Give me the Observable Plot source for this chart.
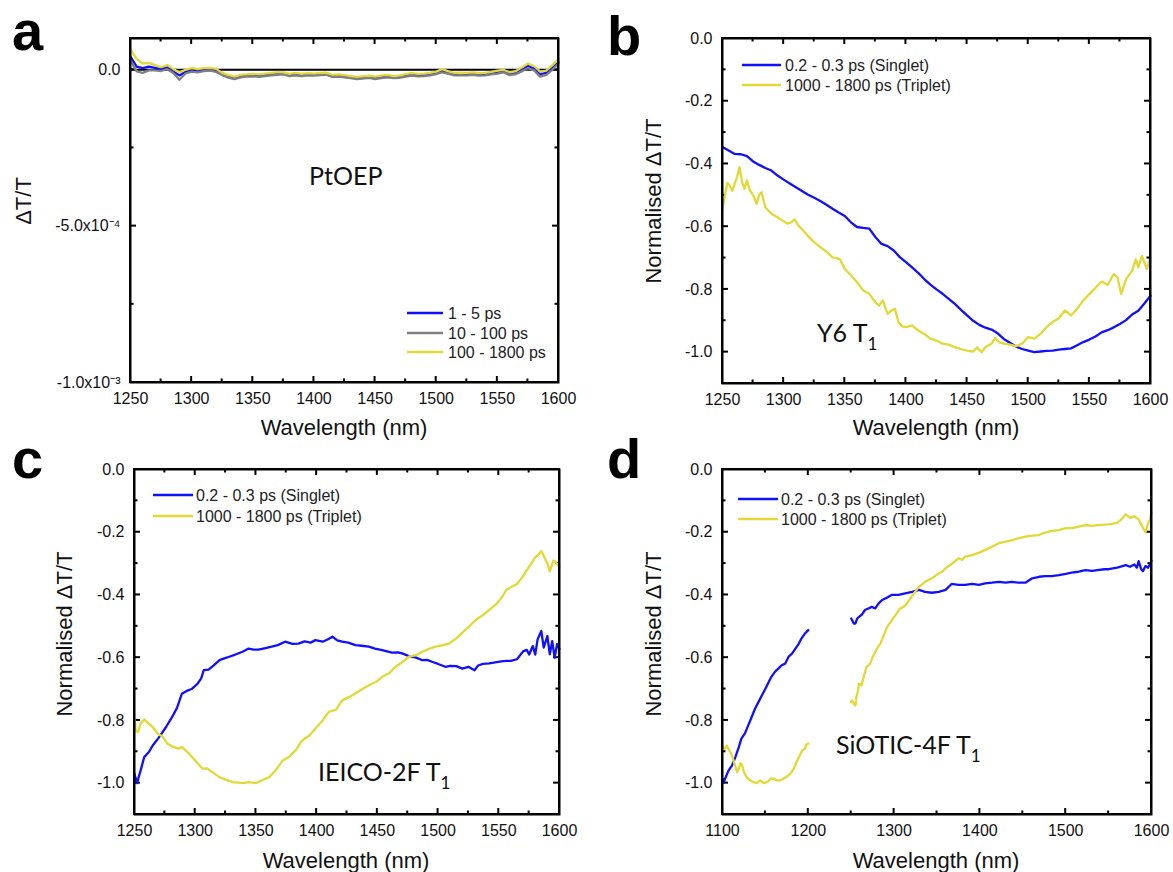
<!DOCTYPE html>
<html><head><meta charset="utf-8">
<script src="https://cdn.jsdelivr.net/npm/d3@7"></script>
<script src="https://cdn.jsdelivr.net/npm/@observablehq/plot@0.6"></script>
<style>
body{margin:0;background:#fff;}
#fig{position:relative;width:1173px;height:872px;overflow:hidden;background:#fff;}
.panel{position:absolute;}
#ov{position:absolute;left:0;top:0;pointer-events:none;}
</style></head><body><div id="fig"></div>
<script>
// ---------- Panel a (PtOEP), ΔT/T in units of 1e-4 ----------
const wlA = [1250,1255,1260,1265,1270,1275,1280,1285,1290,1295,1300,1305,1310,1315,1320,1325,1330,1335,1340,1345,1350,1355,1360,1365,1370,1375,1380,1385,1390,1395,1400,1405,1410,1415,1420,1425,1430,1435,1440,1445,1450,1455,1460,1465,1470,1475,1480,1485,1490,1495,1500,1505,1510,1515,1520,1525,1530,1535,1540,1545,1550,1555,1560,1565,1570,1575,1580,1585,1590,1595,1600];
const a_1_5ps = [0.42,0.1,0.05,0.1,0.06,0.02,0.08,-0.05,-0.18,-0.06,-0.02,-0.04,0.0,0.01,-0.03,-0.14,-0.22,-0.26,-0.2,-0.19,-0.18,-0.2,-0.16,-0.14,-0.13,-0.12,-0.17,-0.14,-0.17,-0.15,-0.16,-0.14,-0.13,-0.2,-0.19,-0.21,-0.24,-0.27,-0.25,-0.23,-0.27,-0.24,-0.21,-0.24,-0.23,-0.19,-0.16,-0.18,-0.17,-0.15,-0.11,-0.04,-0.1,-0.15,-0.14,-0.15,-0.13,-0.16,-0.15,-0.12,-0.09,-0.05,-0.14,-0.1,0.0,0.12,0.04,-0.14,-0.1,0.06,0.25];
const a_10_100ps = [0.3,-0.05,-0.1,-0.02,-0.02,-0.04,0.02,-0.1,-0.32,-0.12,-0.06,-0.08,-0.04,-0.03,-0.07,-0.17,-0.25,-0.3,-0.24,-0.22,-0.21,-0.23,-0.2,-0.18,-0.16,-0.15,-0.2,-0.18,-0.2,-0.18,-0.19,-0.17,-0.16,-0.23,-0.22,-0.24,-0.27,-0.3,-0.28,-0.26,-0.3,-0.27,-0.24,-0.27,-0.26,-0.22,-0.19,-0.21,-0.2,-0.18,-0.14,-0.08,-0.13,-0.18,-0.17,-0.18,-0.16,-0.19,-0.18,-0.15,-0.12,-0.08,-0.17,-0.14,-0.05,0.05,-0.02,-0.22,-0.16,0.0,0.2];
const a_100_1800ps = [0.64,0.35,0.2,0.22,0.15,0.08,0.15,0.02,-0.08,0.0,0.05,0.02,0.05,0.06,0.03,-0.1,-0.17,-0.22,-0.16,-0.15,-0.13,-0.15,-0.12,-0.1,-0.08,-0.08,-0.13,-0.1,-0.13,-0.11,-0.12,-0.1,-0.09,-0.16,-0.15,-0.17,-0.2,-0.23,-0.21,-0.19,-0.22,-0.19,-0.16,-0.2,-0.19,-0.14,-0.11,-0.13,-0.12,-0.1,-0.06,0.02,-0.05,-0.1,-0.09,-0.1,-0.08,-0.11,-0.1,-0.07,-0.03,0.0,-0.08,-0.04,0.07,0.2,0.12,-0.06,-0.03,0.15,0.34];

// ---------- Panel b (Y6) ----------
const b_singlet = [[1250,-0.346],[1255,-0.357],[1260,-0.368],[1265,-0.369],[1270,-0.375],[1275,-0.392],[1280,-0.403],[1285,-0.413],[1290,-0.421],[1295,-0.437],[1300,-0.450],[1305,-0.462],[1310,-0.474],[1315,-0.486],[1320,-0.498],[1325,-0.508],[1330,-0.518],[1335,-0.530],[1340,-0.543],[1345,-0.555],[1350,-0.566],[1355,-0.586],[1360,-0.601],[1365,-0.604],[1370,-0.606],[1375,-0.633],[1380,-0.655],[1385,-0.662],[1390,-0.676],[1395,-0.697],[1400,-0.713],[1405,-0.730],[1410,-0.747],[1415,-0.767],[1420,-0.785],[1425,-0.800],[1430,-0.814],[1435,-0.830],[1440,-0.846],[1445,-0.865],[1450,-0.883],[1455,-0.900],[1460,-0.913],[1465,-0.922],[1470,-0.928],[1475,-0.940],[1480,-0.958],[1485,-0.970],[1490,-0.982],[1495,-0.990],[1500,-0.995],[1505,-1.0],[1510,-0.998],[1515,-0.996],[1520,-0.995],[1525,-0.992],[1530,-0.990],[1535,-0.988],[1540,-0.978],[1545,-0.968],[1550,-0.960],[1555,-0.950],[1560,-0.937],[1565,-0.930],[1570,-0.921],[1575,-0.910],[1580,-0.898],[1585,-0.880],[1590,-0.868],[1595,-0.845],[1600,-0.820]];
const b_triplet = [[1250,-0.543],[1252,-0.50],[1254,-0.46],[1256,-0.47],[1258,-0.485],[1260,-0.463],[1262,-0.44],[1264,-0.41],[1266,-0.458],[1268,-0.479],[1270,-0.452],[1272,-0.48],[1275,-0.50],[1278,-0.527],[1280,-0.498],[1282,-0.49],[1285,-0.538],[1290,-0.559],[1295,-0.570],[1300,-0.583],[1303,-0.590],[1306,-0.586],[1309,-0.577],[1312,-0.596],[1316,-0.612],[1320,-0.630],[1325,-0.650],[1330,-0.665],[1335,-0.680],[1340,-0.698],[1343,-0.700],[1346,-0.704],[1350,-0.735],[1355,-0.755],[1360,-0.777],[1365,-0.803],[1370,-0.814],[1375,-0.841],[1378,-0.852],[1381,-0.835],[1385,-0.878],[1388,-0.868],[1391,-0.862],[1394,-0.905],[1397,-0.918],[1400,-0.920],[1405,-0.915],[1410,-0.931],[1415,-0.942],[1420,-0.957],[1425,-0.963],[1430,-0.973],[1435,-0.976],[1440,-0.984],[1445,-0.990],[1450,-0.995],[1455,-0.998],[1458,-0.985],[1462,-1.0],[1465,-0.984],[1470,-0.973],[1473,-0.955],[1476,-0.968],[1480,-0.973],[1485,-0.976],[1490,-0.981],[1495,-0.973],[1500,-0.952],[1505,-0.957],[1510,-0.942],[1515,-0.920],[1520,-0.904],[1525,-0.892],[1530,-0.867],[1535,-0.883],[1540,-0.862],[1545,-0.835],[1550,-0.815],[1555,-0.795],[1560,-0.775],[1565,-0.785],[1570,-0.751],[1573,-0.762],[1576,-0.815],[1580,-0.767],[1585,-0.741],[1588,-0.704],[1590,-0.730],[1593,-0.693],[1597,-0.735],[1600,-0.698]];

// ---------- Panel c (IEICO-2F) ----------
const c_singlet = [[1250,-0.970],[1252,-1.0],[1255,-0.96],[1258,-0.917],[1262,-0.90],[1265,-0.880],[1270,-0.855],[1276,-0.821],[1281,-0.789],[1285,-0.76],[1289,-0.715],[1293,-0.706],[1297,-0.70],[1302,-0.683],[1305,-0.665],[1307,-0.640],[1311,-0.638],[1315,-0.625],[1320,-0.608],[1324,-0.602],[1328,-0.597],[1333,-0.590],[1339,-0.581],[1344,-0.571],[1348,-0.574],[1352,-0.574],[1357,-0.570],[1363,-0.565],[1368,-0.560],[1374,-0.549],[1380,-0.556],[1385,-0.555],[1390,-0.548],[1395,-0.552],[1399,-0.544],[1405,-0.549],[1409,-0.542],[1413,-0.533],[1417,-0.545],[1421,-0.549],[1426,-0.552],[1432,-0.560],[1437,-0.562],[1443,-0.565],[1448,-0.571],[1454,-0.576],[1458,-0.580],[1462,-0.584],[1467,-0.583],[1471,-0.587],[1476,-0.595],[1482,-0.600],[1487,-0.608],[1491,-0.607],[1495,-0.613],[1500,-0.620],[1506,-0.629],[1510,-0.626],[1515,-0.627],[1520,-0.635],[1525,-0.629],[1530,-0.640],[1533,-0.625],[1537,-0.620],[1542,-0.618],[1547,-0.615],[1552,-0.612],[1556,-0.61],[1560,-0.61],[1565,-0.605],[1570,-0.58],[1573,-0.575],[1575,-0.59],[1578,-0.563],[1580,-0.59],[1582,-0.541],[1585,-0.515],[1587,-0.568],[1590,-0.531],[1592,-0.589],[1594,-0.547],[1596,-0.60],[1598,-0.557],[1600,-0.573]];
const c_triplet = [[1250,-0.794],[1251,-0.832],[1253,-0.837],[1255,-0.81],[1258,-0.797],[1260,-0.805],[1265,-0.821],[1269,-0.842],[1273,-0.851],[1277,-0.874],[1281,-0.883],[1286,-0.890],[1289,-0.885],[1295,-0.906],[1300,-0.928],[1306,-0.954],[1310,-0.953],[1314,-0.965],[1320,-0.981],[1325,-0.989],[1331,-0.997],[1339,-1.0],[1344,-0.997],[1350,-1.0],[1355,-0.991],[1361,-0.981],[1366,-0.960],[1372,-0.928],[1377,-0.917],[1383,-0.894],[1388,-0.864],[1394,-0.848],[1399,-0.826],[1405,-0.800],[1410,-0.773],[1416,-0.766],[1421,-0.736],[1427,-0.725],[1432,-0.714],[1438,-0.699],[1443,-0.688],[1449,-0.677],[1454,-0.661],[1460,-0.649],[1465,-0.629],[1471,-0.613],[1476,-0.597],[1482,-0.592],[1487,-0.581],[1493,-0.571],[1498,-0.565],[1504,-0.560],[1509,-0.555],[1515,-0.539],[1520,-0.520],[1526,-0.499],[1531,-0.480],[1537,-0.464],[1542,-0.448],[1548,-0.429],[1553,-0.405],[1556,-0.385],[1560,-0.375],[1565,-0.365],[1570,-0.34],[1575,-0.31],[1580,-0.28],[1583,-0.27],[1585,-0.26],[1587,-0.275],[1590,-0.30],[1592,-0.325],[1595,-0.29],[1598,-0.30],[1600,-0.31]];

// ---------- Panel d (SiOTIC-4F), two spectral windows ----------
const d_singlet_vis = [[1100,-0.986],[1101,-1.0],[1103,-0.986],[1107,-0.96],[1111,-0.944],[1115,-0.917],[1119,-0.885],[1122,-0.858],[1126,-0.842],[1130,-0.816],[1134,-0.789],[1138,-0.762],[1142,-0.741],[1146,-0.720],[1150,-0.699],[1154,-0.677],[1157,-0.661],[1161,-0.645],[1165,-0.635],[1169,-0.624],[1173,-0.619],[1177,-0.597],[1181,-0.587],[1185,-0.571],[1189,-0.555],[1192,-0.539],[1196,-0.523],[1200,-0.512]];
const d_singlet_nir = [[1250,-0.475],[1251,-0.48],[1253,-0.491],[1255,-0.491],[1257,-0.475],[1259,-0.47],[1262,-0.464],[1266,-0.448],[1270,-0.443],[1274,-0.438],[1278,-0.443],[1282,-0.427],[1286,-0.416],[1290,-0.411],[1297,-0.40],[1305,-0.40],[1313,-0.395],[1321,-0.39],[1329,-0.384],[1336,-0.39],[1344,-0.393],[1352,-0.39],[1360,-0.384],[1367,-0.365],[1375,-0.368],[1383,-0.368],[1391,-0.365],[1399,-0.368],[1406,-0.363],[1414,-0.361],[1422,-0.358],[1430,-0.361],[1437,-0.358],[1445,-0.361],[1453,-0.361],[1461,-0.347],[1469,-0.342],[1476,-0.34],[1484,-0.34],[1492,-0.337],[1500,-0.333],[1507,-0.329],[1515,-0.326],[1523,-0.321],[1531,-0.323],[1537,-0.321],[1545,-0.318],[1550,-0.318],[1560,-0.313],[1570,-0.305],[1575,-0.31],[1580,-0.303],[1583,-0.313],[1585,-0.292],[1588,-0.318],[1590,-0.324],[1593,-0.308],[1596,-0.313],[1600,-0.292]];
const d_triplet_vis = [[1100,-0.88],[1101,-0.885],[1103,-0.89],[1105,-0.88],[1108,-0.896],[1111,-0.912],[1114,-0.938],[1117,-0.965],[1119,-0.954],[1121,-0.936],[1123,-0.944],[1125,-0.965],[1128,-0.981],[1132,-0.991],[1136,-0.997],[1140,-1.0],[1144,-0.991],[1148,-1.0],[1152,-0.997],[1156,-0.986],[1160,-0.986],[1163,-0.991],[1167,-0.991],[1171,-0.986],[1175,-0.979],[1179,-0.97],[1183,-0.954],[1187,-0.928],[1191,-0.906],[1193,-0.896],[1196,-0.89],[1198,-0.876],[1200,-0.874]];
const d_triplet_nir = [[1250,-0.741],[1251,-0.736],[1253,-0.747],[1255,-0.752],[1256,-0.725],[1258,-0.704],[1259,-0.683],[1262,-0.688],[1265,-0.656],[1268,-0.629],[1272,-0.619],[1276,-0.592],[1280,-0.571],[1284,-0.555],[1288,-0.528],[1292,-0.502],[1296,-0.486],[1300,-0.47],[1303,-0.459],[1307,-0.443],[1311,-0.438],[1315,-0.427],[1319,-0.411],[1323,-0.395],[1329,-0.374],[1336,-0.358],[1344,-0.347],[1352,-0.331],[1356,-0.326],[1360,-0.315],[1368,-0.299],[1375,-0.283],[1379,-0.288],[1383,-0.278],[1391,-0.273],[1399,-0.265],[1406,-0.257],[1414,-0.246],[1422,-0.235],[1430,-0.23],[1438,-0.225],[1445,-0.219],[1453,-0.214],[1461,-0.211],[1469,-0.209],[1476,-0.201],[1484,-0.196],[1492,-0.193],[1500,-0.187],[1508,-0.187],[1515,-0.182],[1523,-0.177],[1531,-0.18],[1537,-0.177],[1545,-0.176],[1550,-0.175],[1560,-0.17],[1565,-0.159],[1570,-0.143],[1575,-0.154],[1580,-0.149],[1585,-0.159],[1590,-0.186],[1593,-0.2],[1595,-0.18],[1598,-0.159],[1600,-0.138]];

// ---------- ticks and labels ----------
const xTicksMain = [1250,1300,1350,1400,1450,1500,1550,1600];
const xMinorMain = [1275,1325,1375,1425,1475,1525,1575];
const xTicksD = [1100,1200,1300,1400,1500,1600];
const xMinorD = [1150,1250,1350,1450,1550];
const yTicksNorm = [0,-0.2,-0.4,-0.6,-0.8,-1.0];
const yMinorNorm = [-0.1,-0.3,-0.5,-0.7,-0.9];
const yTicksA = [0,-5e-4,-1e-3];
const yTickLabelsA = ["0.0","-5.0x10\u207B\u2074","-1.0x10\u207B\u00B3"];
const yMinorA = [-2.5e-4,-7.5e-4];
const legendA = ["1 - 5 ps","10 - 100 ps","100 - 1800 ps"];
const legendNorm = ["0.2 - 0.3 ps (Singlet)","1000 - 1800 ps (Triplet)"];

const BLUE = "#1010ff", GRAY = "#808080", YELLOW = "#e2d836";
const FONT = "'Liberation Sans', Arial, sans-serif";
const fig = document.getElementById("fig");

function panel(cfg) {
  const {left, top, width, height, mL, mR, mT, mB, xDomain, yDomain, xMajor, xMinor, yMajor, yMinor, yFmt, lines, zero} = cfg;
  const iw = width - mL - mR, ih = height - mT - mB;
  const [x0, x1] = xDomain, [y0, y1] = yDomain;
  const kx = (x1 - x0) / iw, ky = (y1 - y0) / ih;   // data units per pixel
  const ink = {fill: "#000"};
  const marks = [];
  // inward ticks as thin filled bars (2 px wide)
  const xTickBars = [], yTickBars = [];
  for (const [vals, len] of [[xMajor, 6], [xMinor, 3.5]]) for (const v of vals) {
    xTickBars.push({x1: v - kx, x2: v + kx, y1: y0, y2: y0 + len * ky});
    xTickBars.push({x1: v - kx, x2: v + kx, y1: y1 - len * ky, y2: y1});
  }
  for (const [vals, len] of [[yMajor, 6], [yMinor, 3.5]]) for (const v of vals) {
    yTickBars.push({x1: x0, x2: x0 + len * kx, y1: v - ky, y2: v + ky});
    yTickBars.push({x1: x1 - len * kx, x2: x1, y1: v - ky, y2: v + ky});
  }
  marks.push(Plot.rect(xTickBars, {x1: "x1", x2: "x2", y1: "y1", y2: "y2", ...ink}));
  marks.push(Plot.rect(yTickBars, {x1: "x1", x2: "x2", y1: "y1", y2: "y2", ...ink}));
  if (zero) marks.push(Plot.ruleY([0], {stroke: "#000", strokeWidth: 2}));
  for (const l of lines) marks.push(Plot.line(l.data, {x: "x", y: "y", stroke: l.color, strokeWidth: 2.3}));
  // box: four 2 px filled strips on the domain edges, plus the standard frame
  const edges = [
    {x1: x0 - kx, x2: x0 + kx, y1: y0 - ky, y2: y1 + ky},
    {x1: x1 - kx, x2: x1 + kx, y1: y0 - ky, y2: y1 + ky},
    {x1: x0 - kx, x2: x1 + kx, y1: y0 - ky, y2: y0 + ky},
    {x1: x0 - kx, x2: x1 + kx, y1: y1 - ky, y2: y1 + ky}
  ];
  marks.push(Plot.rect(edges, {x1: "x1", x2: "x2", y1: "y1", y2: "y2", ...ink}));
  marks.push(Plot.frame({stroke: "#000", strokeWidth: 2}));
  marks.push(Plot.axisX(xMajor, {tickSize: 0, tickPadding: 10, tickFormat: d => String(d), fontSize: 16, label: null}));
  marks.push(Plot.axisY(yMajor, {tickSize: 0, tickPadding: 10, tickFormat: yFmt, fontSize: 16, label: null}));
  const svg = Plot.plot({
    width, height, marginLeft: mL, marginRight: mR, marginTop: mT, marginBottom: mB,
    style: {fontFamily: FONT, fontSize: "16px", color: "#111", background: "transparent", overflow: "visible"},
    x: {domain: xDomain},
    y: {domain: yDomain},
    marks
  });
  svg.classList.add("panel");
  svg.style.left = left + "px";
  svg.style.top = top + "px";
  fig.appendChild(svg);
}

const toXY = arr => arr.map(([x, y]) => ({x, y}));
const fmtNorm = d => d.toFixed(1);

const cfgs = [
 {left: 0, top: 0, width: 586, height: 440, mL: 130, mR: 28, mT: 38, mB: 58,
  xDomain: [1250, 1600], yDomain: [-1e-3, 1e-4],
  xMajor: xTicksMain, xMinor: xMinorMain, yMajor: yTicksA, yMinor: yMinorA,
  yFmt: d => yTickLabelsA[yTicksA.indexOf(d)], zero: true,
  lines: [
    {data: wlA.map((x, i) => ({x, y: a_1_5ps[i] * 1e-4})), color: BLUE},
    {data: wlA.map((x, i) => ({x, y: a_10_100ps[i] * 1e-4})), color: GRAY},
    {data: wlA.map((x, i) => ({x, y: a_100_1800ps[i] * 1e-4})), color: YELLOW}
  ]},
 {left: 586, top: 0, width: 587, height: 440, mL: 136, mR: 23, mT: 38, mB: 57,
  xDomain: [1250, 1600], yDomain: [-1.1, 0],
  xMajor: xTicksMain, xMinor: xMinorMain, yMajor: yTicksNorm, yMinor: yMinorNorm, yFmt: fmtNorm,
  lines: [{data: toXY(b_singlet), color: BLUE}, {data: toXY(b_triplet), color: YELLOW}]},
 {left: 0, top: 440, width: 586, height: 432, mL: 134, mR: 27, mT: 29, mB: 58,
  xDomain: [1250, 1600], yDomain: [-1.1, 0],
  xMajor: xTicksMain, xMinor: xMinorMain, yMajor: yTicksNorm, yMinor: yMinorNorm, yFmt: fmtNorm,
  lines: [{data: toXY(c_singlet), color: BLUE}, {data: toXY(c_triplet), color: YELLOW}]},
 {left: 586, top: 440, width: 587, height: 432, mL: 136, mR: 22, mT: 29, mB: 58,
  xDomain: [1100, 1600], yDomain: [-1.1, 0],
  xMajor: xTicksD, xMinor: xMinorD, yMajor: yTicksNorm, yMinor: yMinorNorm, yFmt: fmtNorm,
  lines: [{data: toXY(d_singlet_vis), color: BLUE}, {data: toXY(d_singlet_nir), color: BLUE},
          {data: toXY(d_triplet_vis), color: YELLOW}, {data: toXY(d_triplet_nir), color: YELLOW}]}
];
cfgs.forEach(panel);

// ---------- overlay annotations ----------
const ov = d3.select("#fig").append("svg").attr("id", "ov").attr("width", 1173).attr("height", 872)
  .style("font-family", FONT);

// panel letters
[["a", 12, 50], ["b", 607, 55], ["c", 12, 478], ["d", 607, 478]].forEach(([s, x, y]) =>
  ov.append("text").attr("x", x).attr("y", y).attr("font-size", 56).attr("font-weight", "bold").attr("fill", "#000").text(s));

// axis titles
[[344, 435], [936, 435], [346, 868], [936, 868]].forEach(([x, y]) =>
  ov.append("text").attr("x", x).attr("y", y).attr("text-anchor", "middle").attr("font-size", 22).attr("fill", "#111").text("Wavelength (nm)"));
[["\u0394T/T", 31, 201], ["Normalised \u0394T/T", 661, 201], ["Normalised \u0394T/T", 72, 634], ["Normalised \u0394T/T", 661, 634]].forEach(([s, x, y]) =>
  ov.append("text").attr("transform", `translate(${x},${y}) rotate(-90)`).attr("text-anchor", "middle").attr("font-size", 22).attr("fill", "#111").text(s));

// sample labels
function sampleLabel(main, sub, x, y) {
  const t = ov.append("text").attr("x", x).attr("y", y).attr("font-family", "Lato, 'Open Sans', sans-serif").attr("font-size", 25).attr("fill", "#111");
  t.append("tspan").text(main);
  if (sub) t.append("tspan").attr("font-size", 17).attr("dy", 8).text(sub);
}
sampleLabel("PtOEP", null, 309, 185);
sampleLabel("Y6 T", "1", 817, 342);
sampleLabel("IEICO-2F T", "1", 318, 781);
sampleLabel("SiOTIC-4F T", "1", 836, 754);

// legends
function legend(items, colors, x1, x2, ys, tx) {
  items.forEach((s, i) => {
    ov.append("line").attr("x1", x1).attr("x2", x2).attr("y1", ys[i]).attr("y2", ys[i]).attr("stroke", colors[i]).attr("stroke-width", 2.5);
    ov.append("text").attr("x", tx).attr("y", ys[i]).attr("dominant-baseline", "central").attr("font-size", 16).attr("fill", "#222").text(s);
  });
}
legend(legendA, [BLUE, GRAY, YELLOW], 407, 443, [313, 333, 352], 448);
legend(legendNorm, [BLUE, YELLOW], 742, 781, [65, 85], 785);
legend(legendNorm, [BLUE, YELLOW], 153, 193, [495, 516], 196);
legend(legendNorm, [BLUE, YELLOW], 738, 778, [499, 519], 781);
</script></body></html>
